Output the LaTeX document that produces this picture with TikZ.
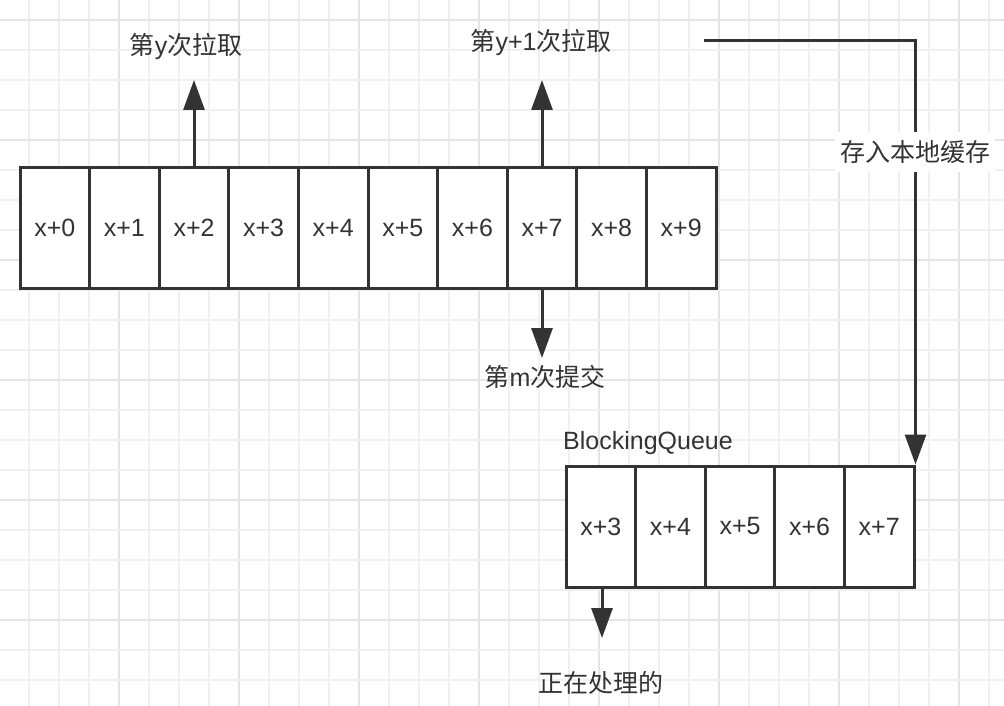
\documentclass[tikz,border=0pt]{standalone}
\usepackage{fontspec}
\setmainfont{Liberation Sans}
\newfontfamily\cjk{Noto Sans CJK SC}
\usetikzlibrary{arrows.meta}
\definecolor{ink}{HTML}{333333}
\definecolor{gridminor}{HTML}{F0F0F0}
\definecolor{gridmajor}{HTML}{E5E5E5}
\tikzset{
  cell/.style={draw=ink, line width=3pt, fill=white, minimum width=69.6pt, minimum height=121pt, inner sep=0pt, text=ink, font=\fontsize{25}{30}\selectfont},
  lab/.style={text=ink, inner sep=0pt, font=\fontsize{25}{30}\selectfont},
  arr/.style={draw=ink, line width=3pt, -{Triangle[length=30pt,width=21pt]}, shorten >=0pt},
}
\begin{document}
\begin{tikzpicture}[x=1pt,y=-1pt]
\useasboundingbox (0,0) rectangle (1004,706);
\fill[white] (0,0) rectangle (1004,706);
% grid
\foreach \i in {0,...,32} {
  \pgfmathtruncatemacro{\m}{mod(\i,4)}
  \ifnum\m=3
    \draw[gridmajor, line width=2pt] ({29+30*\i},0) -- ({29+30*\i},706);
  \else
    \draw[gridminor, line width=1.6pt] ({29+30*\i},0) -- ({29+30*\i},706);
  \fi
}
\foreach \j in {0,...,22} {
  \pgfmathtruncatemacro{\m}{mod(\j,4)}
  \ifnum\m=0
    \draw[gridmajor, line width=2pt] (0,{20+30*\j}) -- (1004,{20+30*\j});
  \else
    \draw[gridminor, line width=1.6pt] (0,{20+30*\j}) -- (1004,{20+30*\j});
  \fi
}
% top array
\foreach \i in {0,...,9} {
  \node[cell] (t\i) at ({54.8+69.6*\i},228) {x+\i};
}
% queue
\foreach \v [count=\k from 0] in {3,4,5,6,7} {
  \node[cell] (q\k) at ({600.8+69.6*\k},526.5) {x+\v};
}
% labels
\node[lab] (l1) at (186,47) {{\cjk 第}y{\cjk 次拉取}};
\node[lab] (l2) at (541,43) {{\cjk 第}y+1{\cjk 次拉取}};
\node[lab] (l3) at (545,377) {{\cjk 第}m{\cjk 次提交}};
\node[lab, anchor=base west] (l4) at (563,449) {BlockingQueue};
\node[lab] (l5) at (601,683) {\cjk 正在处理的};
% arrows
\coordinate (p1) at (t2.north |- 0,80);
\coordinate (p2) at (t7.north |- 0,80);
\coordinate (p3) at (t7.south |- 0,358);
\coordinate (p4) at (602,638);
\coordinate (c0) at (704,41);
\draw[arr] (t2.north) -- (p1);
\draw[arr] (t7.north) -- (p2);
\draw[arr] (t7.south) -- (p3);
\draw[arr] (q0.south -| p4) -- (p4);
\draw[arr] (c0) -| (q4.north east);
\node[lab, fill=white, inner xsep=5pt, inner ysep=8pt] (l6) at (915,152) {\cjk 存入本地缓存};
\end{tikzpicture}
\end{document}
